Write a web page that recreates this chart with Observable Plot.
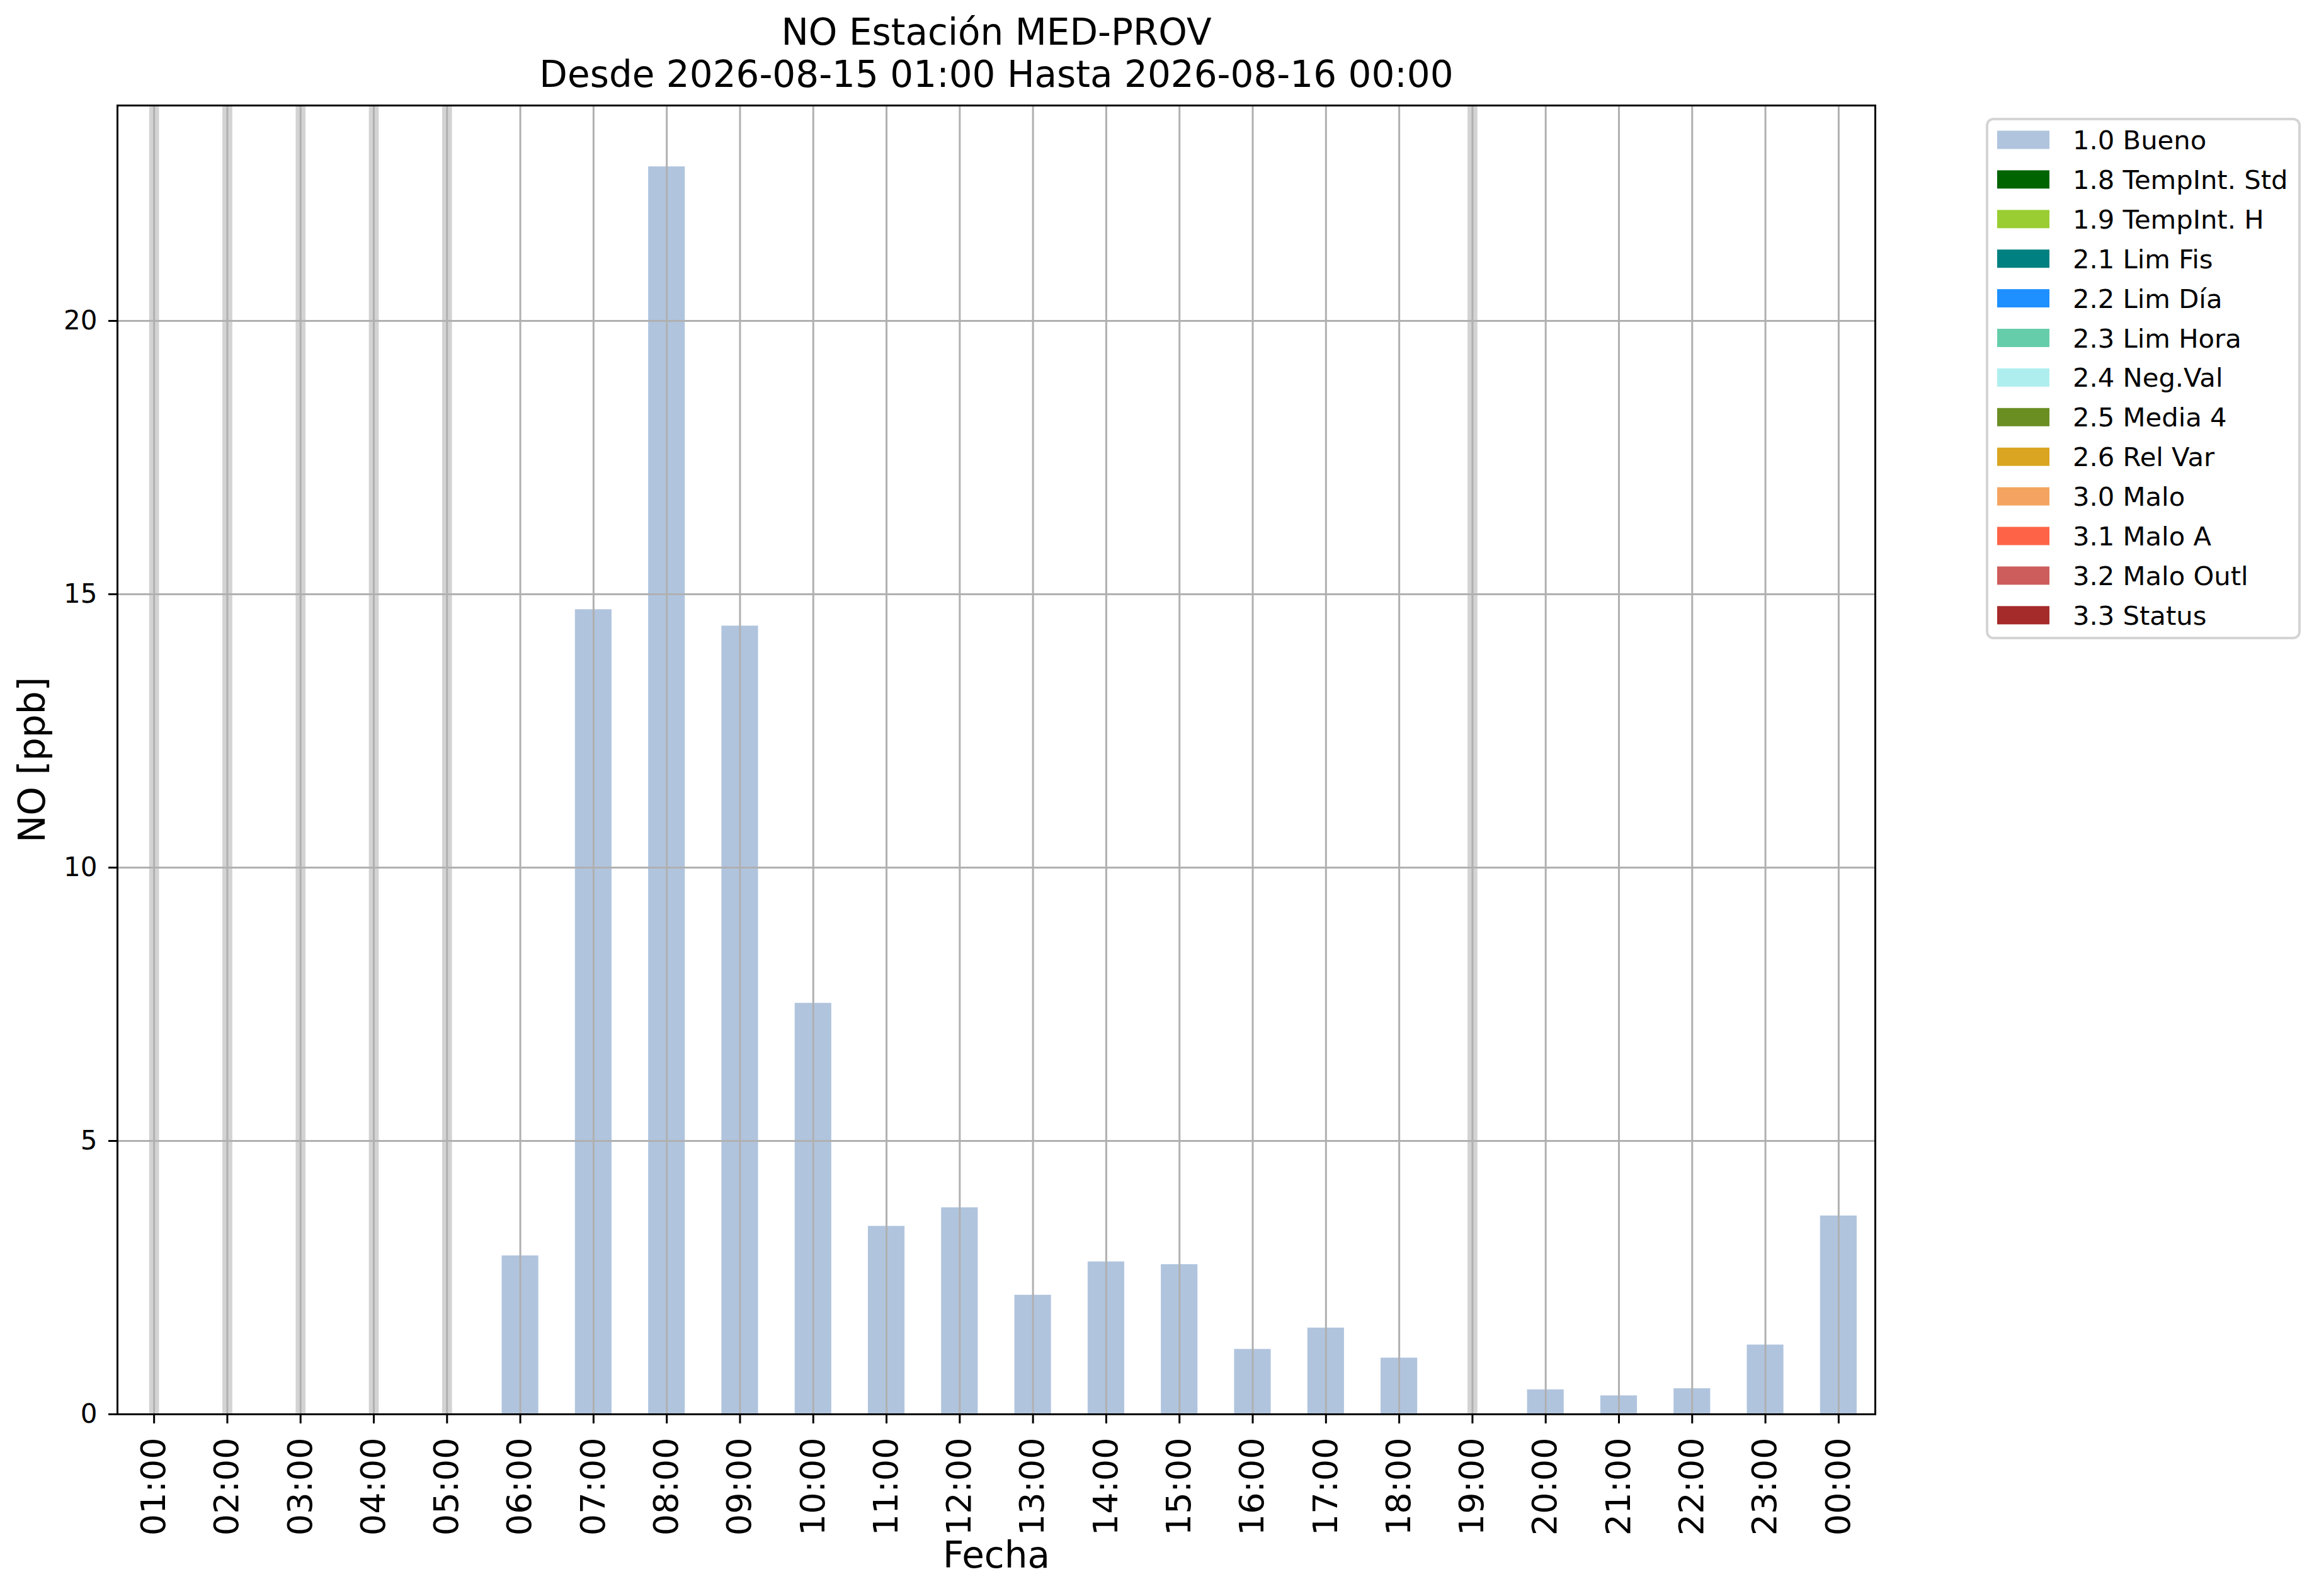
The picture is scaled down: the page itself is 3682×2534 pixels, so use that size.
<!DOCTYPE html>
<html>
<head>
<meta charset="utf-8">
<script src="https://cdn.jsdelivr.net/npm/d3@7"></script>
<script src="https://cdn.jsdelivr.net/npm/@observablehq/plot@0.6"></script>
<style>
  html, body { margin: 0; padding: 0; background: #fff; }
  #wrap { position: relative; width: 3682px; height: 2534px; font-family: "DejaVu Sans", sans-serif; color: #000; }
  #wrap > svg { position: absolute; left: 0; top: 0; }
</style>
</head>
<body>
<div id="wrap"></div>
<script>
// ---- data ----
const hours = ["01:00","02:00","03:00","04:00","05:00","06:00","07:00","08:00","09:00","10:00","11:00","12:00",
               "13:00","14:00","15:00","16:00","17:00","18:00","19:00","20:00","21:00","22:00","23:00","00:00"];
const values = [null, null, null, null, null, 2.90, 14.72, 22.82, 14.42, 7.52, 3.44, 3.78,
                2.18, 2.79, 2.74, 1.19, 1.58, 1.03, null, 0.45, 0.34, 0.47, 1.27, 3.63];
const missingHours = ["01:00","02:00","03:00","04:00","05:00","19:00"];
const yTicks = [0, 5, 10, 15, 20];
const titleLine1 = "NO Estación MED-PROV";
const titleLine2 = "Desde 2026-08-15 01:00 Hasta 2026-08-16 00:00";
const yLabel = "NO [ppb]";
const xLabel = "Fecha";
const legendLabels = ["1.0 Bueno","1.8 TempInt. Std","1.9 TempInt. H","2.1 Lim Fis","2.2 Lim Día","2.3 Lim Hora",
                      "2.4 Neg.Val","2.5 Media 4","2.6 Rel Var","3.0 Malo","3.1 Malo A","3.2 Malo Outl","3.3 Status"];
const legendColors = ["#b0c4de","#006400","#9acd32","#008080","#1e90ff","#66cdaa",
                      "#afeeee","#6b8e23","#daa520","#f4a460","#ff6347","#cd5c5c","#a52a2a"];

const data = hours.map((h, i) => ({hour: h, value: values[i]})).filter(d => d.value != null);

const W = 3682, H = 2534;
const mL = 186, mR = W - 2977, mT = 167, mB = H - 2245;

const chart = Plot.plot({
  width: W, height: H,
  marginLeft: mL, marginRight: mR, marginTop: mT, marginBottom: mB,
  style: {fontFamily: "DejaVu Sans, sans-serif", background: "transparent", color: "#000", overflow: "visible"},
  x: {domain: hours, paddingInner: 0.5, paddingOuter: 0.25, round: false, label: null, axis: null},
  y: {domain: [0, 23.94], label: null, axis: null},
  marks: [
    Plot.ruleX(missingHours, {x: d => d, stroke: "#d3d3d3", strokeWidth: 15.7}),
    Plot.barY(data, {x: "hour", y: "value", fill: "#b0c4de"}),
    Plot.ruleY(yTicks, {stroke: "#b0b0b0", strokeWidth: 3}),
    Plot.ruleX(hours, {x: d => d, stroke: "#b0b0b0", strokeWidth: 3}),
    Plot.frame({stroke: "#000", strokeWidth: 3}),
    Plot.axisY({ticks: yTicks, tickSize: 14, tickPadding: 18, fontSize: 42, label: null, strokeWidth: 3}),
    Plot.axisX({tickSize: 15, tickPadding: 22, tickRotate: -90, fontSize: 54, label: null, strokeWidth: 3}),
    Plot.text([titleLine1], {text: d => d, frameAnchor: "top", dy: -115, fontSize: 58, lineAnchor: "middle", fill: "#000"}),
    Plot.text([titleLine2], {text: d => d, frameAnchor: "top", dy: -48, fontSize: 58, lineAnchor: "middle", fill: "#000"}),
    Plot.text([xLabel], {text: d => d, frameAnchor: "bottom", dy: 225, fontSize: 58, lineAnchor: "middle", fill: "#000"}),
    Plot.text([yLabel], {text: d => d, frameAnchor: "left", dx: -134, rotate: -90, textAnchor: "middle", fontSize: 58, lineAnchor: "middle", fill: "#000"})
  ]
});
document.getElementById("wrap").appendChild(chart);

// ---- legend ----
const lg = d3.select("#wrap").append("svg")
  .attr("width", W).attr("height", H)
  .style("font-family", "DejaVu Sans, sans-serif");
lg.append("rect")
  .attr("x", 3155).attr("y", 189).attr("width", 496).attr("height", 824)
  .attr("rx", 10).attr("ry", 10)
  .attr("fill", "#fff").attr("stroke", "#d4d4d4").attr("stroke-width", 4);
const rowPitch = 62.9, row0 = 222;
const rows = lg.selectAll("g.row").data(legendLabels).join("g")
  .attr("transform", (d, i) => `translate(0,${row0 + i * rowPitch})`);
rows.append("rect")
  .attr("x", 3171).attr("y", -14.5).attr("width", 83).attr("height", 29)
  .attr("fill", (d, i) => legendColors[i]);
rows.append("text")
  .attr("x", 3291).attr("y", 0).attr("dy", "0.36em")
  .attr("font-size", 41.7).attr("fill", "#000")
  .text(d => d);
</script>
</body>
</html>
